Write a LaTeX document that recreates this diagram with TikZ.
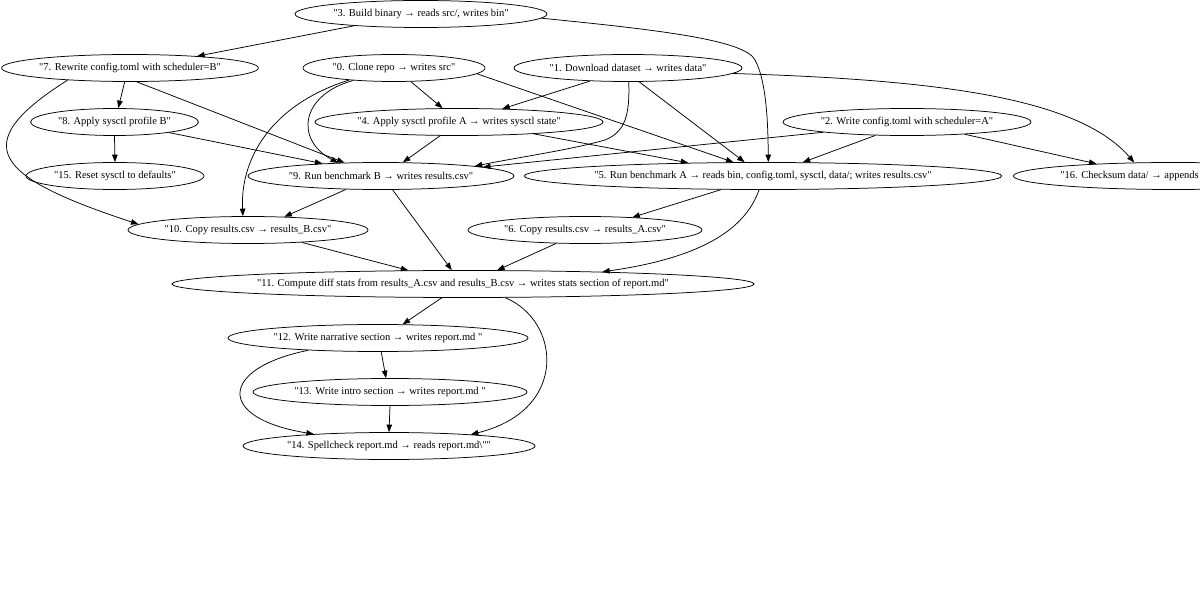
\documentclass[tikz,border=0pt]{standalone}
\usepackage{fontspec}
\setmainfont{Liberation Serif}[Ligatures=TeXOff]
\usetikzlibrary{arrows.meta,shapes.geometric}
\begin{document}
\begin{tikzpicture}[x=1pt,y=-1pt,
  gnode/.style={draw, ellipse, line width=0.75pt, inner xsep=0pt, inner ysep=0pt,
    minimum height=27pt, font=\fontsize{10.5}{12}\selectfont},
  edge/.style={draw, line width=0.75pt, -{Triangle[length=7.5pt,width=5.5pt]}},
]
\fill[white] (0,0) rectangle (1200,596);
\useasboundingbox (0,0) rectangle (1200,596);
\clip (0,0) rectangle (1200,596);

\node[gnode, minimum width=252pt] (n3) at (421,14) {"3. Build binary → reads src/, writes bin"};
\node[gnode, minimum width=256pt] (n7) at (130,68) {"7. Rewrite config.toml with scheduler=B"};
\node[gnode, minimum width=182pt] (n0) at (394,68) {"0. Clone repo → writes src"};
\node[gnode, minimum width=228pt] (n1) at (628,68) {"1. Download dataset → writes data"};
\node[gnode, minimum width=168pt] (n8) at (114.5,122) {"8. Apply sysctl profile B"};
\node[gnode, minimum width=288pt] (n4) at (459,122) {"4. Apply sysctl profile A → writes sysctl state"};
\node[gnode, minimum width=248pt] (n2) at (907,122) {"2. Write config.toml with scheduler=A"};
\node[gnode, minimum width=178pt] (n15) at (115,176) {"15. Reset sysctl to defaults"};
\node[gnode, minimum width=266pt] (n9) at (381,176) {"9. Run benchmark B → writes results.csv"};
\node[gnode, minimum width=470pt] (n5) at (763,176) {"5. Run benchmark A → reads bin, config.toml, sysctl, data/; writes results.csv"};
\node[gnode, minimum width=320pt, anchor=west] (n16) at (1013,176) {\makebox[226pt][l]{"16. Checksum data/ → appends to}};
\node[gnode, minimum width=240pt] (n10) at (248,230) {"10. Copy results.csv → results\_B.csv"};
\node[gnode, minimum width=234pt] (n6) at (585,230) {"6. Copy results.csv → results\_A.csv"};
\node[gnode, minimum width=570pt] (n11) at (463,284) {"11. Compute diff stats from results\_A.csv and results\_B.csv → writes stats section of report.md"};
\node[gnode, minimum width=300pt] (n12) at (378,338) {"12. Write narrative section → writes report.md "};
\node[gnode, minimum width=274pt] (n13) at (390,392) {"13. Write intro section → writes report.md "};
\node[gnode, minimum width=292pt] (n14) at (389,446) {"14. Spellcheck report.md → reads report.md\textbackslash""};

\draw[edge] (n3.-170.1) -- (n7.10.6);
\draw[edge] (n3.-2.1) .. controls (660,30) and (745,40) .. (755,60) .. controls (766,80) and (768,120) .. (n5.69.7);
\draw[edge] (n7.-111) -- (n8.75.5);
\draw[edge] (n8.south) -- (n15.north);
\draw[edge] (n7.-64.8) -- (n9.160.1);
\draw[edge] (n8.-11) -- (n9.168.9);
\draw[edge] (n7.-169.9) .. controls (-35,145) and (-5,177) .. (n10.177.2);
\draw[edge] (n0.-163.6) .. controls (300,95) and (295,140) .. (n9.163.9);
\draw[edge] (n0.-165) .. controls (270,105) and (240,160) .. (n10.110.3);
\draw[edge] (n0.-39.7) -- (n4.140);
\draw[edge] (n0.-4.8) -- (n5.155.9);
\draw[edge] (n1.-161.5) -- (n4.17.5);
\draw[edge] (n1.-87) .. controls (630,115) and (625,132) .. (605,140) .. controls (570,150) and (520,157) .. (n9.6.05);
\draw[edge] (n1.-51.8) -- (n5.143.1);
\draw[edge] (n1.-3) .. controls (950,80) and (1080,100) .. (n16.161.4);
\draw[edge] (n4.-144.8) -- (n9.32.5);
\draw[edge] (n4.-9.9) -- (n5.170.3);
\draw[edge] (n2.-173.8) -- (n9.5.4);
\draw[edge] (n2.-157.8) -- (n5.19.8);
\draw[edge] (n2.-12.4) -- (n16.171.7);
\draw[edge] (n9.-159) -- (n10.20.9);
\draw[edge] (n9.-50.7) -- (n11.129.2);
\draw[edge] (n5.-162) -- (n6.15.5);
\draw[edge] (n5.-106.5) .. controls (745,230) and (700,258) .. (n11.5.4);
\draw[edge] (n10.-13.8) -- (n11.166);
\draw[edge] (n6.-155.7) -- (n11.22.1);
\draw[edge] (n11.-147.3) -- (n12.29);
\draw[edge] (n11.-18) .. controls (560,320) and (570,410) .. (n14.8.8);
\draw[edge] (n12.-77.5) -- (n13.106.5);
\draw[edge] (n12.-170.5) .. controls (220,368) and (215,418) .. (n14.171.4);
\draw[edge] (n13.south) -- (n14.north);
\end{tikzpicture}
\end{document}
